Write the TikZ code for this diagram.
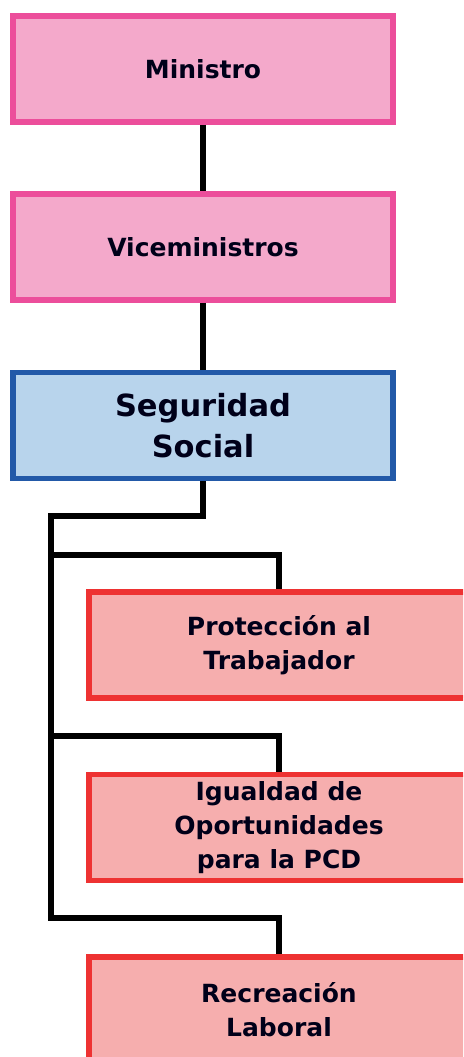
\documentclass[tikz,border=0pt]{standalone}
\usepackage{fontspec}
\setmainfont{DejaVu Sans}
\definecolor{pinkfill}{RGB}{244,169,203}
\definecolor{pinkline}{RGB}{236,78,155}
\definecolor{bluefill}{RGB}{184,212,236}
\definecolor{blueline}{RGB}{34,89,168}
\definecolor{redfill}{RGB}{246,174,174}
\definecolor{redline}{RGB}{238,50,50}
\begin{document}
\begin{tikzpicture}[x=1pt,y=-1pt,
  box/.style={draw,line width=5.6pt,minimum width=380pt,minimum height=106pt,inner sep=0pt,align=center,text=black!90!blue,font=\bfseries\fontsize{25}{34}\selectfont},
  pinkbox/.style={box,fill=pinkfill,draw=pinkline},
  bluebox/.style={box,fill=bluefill,draw=blueline,font=\bfseries\fontsize{30.5}{41}\selectfont},
  redbox/.style={box,fill=redfill,draw=redline},
  conn/.style={line width=5.3pt,black}]
\useasboundingbox (0,0) rectangle (463,1057);
\begin{scope}
\clip (0,0) rectangle (463,1057);
\node[pinkbox] (min) at (203,69) {Ministro};
\node[pinkbox] (vice) at (203,247) {Viceministros};
\node[bluebox] (seg) at (203,425.5) {Seguridad\\Social};
\node[redbox] (prot) at (279,645) {Protección al\\Trabajador};
\node[redbox] (igu) at (279,827.5) {Igualdad de\\Oportunidades\\para la PCD};
\node[redbox] (rec) at (279,1010) {Recreación\\Laboral};
\coordinate (j0) at (203,516);
\coordinate (t0) at (51,516);
\coordinate (t1) at (51,555);
\coordinate (t2) at (51,736);
\coordinate (t3) at (51,918);
\draw[conn] (min.south) -- (vice.north);
\draw[conn] (vice.south) -- (seg.north);
\draw[conn] (seg.south) -- (j0) -- (t0) -- (t3) -| (rec.north);
\draw[conn] (t1) -| (prot.north);
\draw[conn] (t2) -| (igu.north);
\end{scope}
\end{tikzpicture}
\end{document}
